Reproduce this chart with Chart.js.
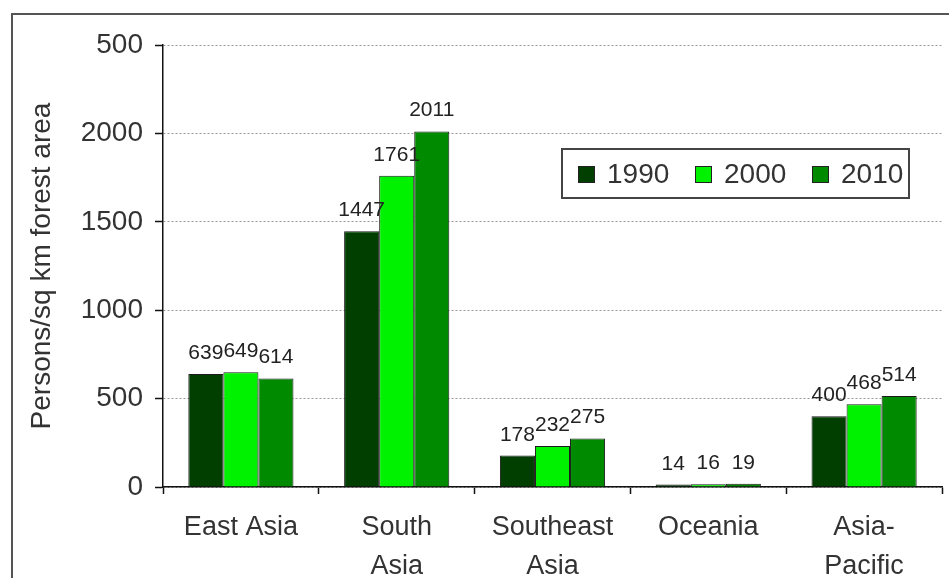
<!DOCTYPE html>
<html>
<head>
<meta charset="utf-8">
<script src="https://cdn.jsdelivr.net/npm/chart.js@4/dist/chart.umd.min.js"></script>
<style>
  html, body { margin: 0; padding: 0; background: #fff; }
  #wrap { width: 949px; height: 578px; }
</style>
</head>
<body>
<div id="wrap"><canvas id="densityChart" width="949" height="578"></canvas></div>
<script>
  // Population density per forest area, by region
  const regions = [['East Asia'], ['South', 'Asia'], ['Southeast', 'Asia'], ['Oceania'], ['Asia-', 'Pacific']];
  const years = ['1990', '2000', '2010'];
  const values1990 = [639, 1447, 178, 14, 400];
  const values2000 = [649, 1761, 232, 16, 468];
  const values2010 = [614, 2011, 275, 19, 514];
  const yTickLabels = ['0', '500', '1000', '1500', '2000', '500'];
  const colors = ['#003f00', '#00f200', '#008a00'];

  const FONT = 'Liberation Sans, Arial, sans-serif';

  // outer frame of the figure
  const framePlugin = {
    id: 'frame',
    beforeDraw(chart) {
      const ctx = chart.ctx;
      ctx.save();
      ctx.strokeStyle = '#555';
      ctx.lineWidth = 2;
      ctx.strokeRect(12, 14, 960, 600);
      ctx.restore();
    }
  };

  // numbers above each bar
  const valueLabels = {
    id: 'valueLabels',
    afterDatasetsDraw(chart) {
      const ctx = chart.ctx;
      ctx.save();
      ctx.font = '21px ' + FONT;
      ctx.fillStyle = '#222';
      ctx.textAlign = 'center';
      ctx.textBaseline = 'alphabetic';
      chart.data.datasets.forEach((ds, i) => {
        chart.getDatasetMeta(i).data.forEach((bar, j) => {
          ctx.fillText(String(ds.data[j]), bar.x, bar.y - 15);
        });
      });
      ctx.restore();
    }
  };

  // boxed legend inside the plot
  const boxLegend = {
    id: 'boxLegend',
    afterDraw(chart) {
      const ctx = chart.ctx;
      ctx.save();
      ctx.strokeStyle = '#444';
      ctx.lineWidth = 2;
      ctx.fillStyle = '#fff';
      ctx.fillRect(562, 149, 347, 49);
      ctx.strokeRect(562, 149, 347, 49);
      ctx.font = '28px ' + FONT;
      ctx.textBaseline = 'middle';
      let x = 578;
      chart.data.datasets.forEach((ds) => {
        ctx.fillStyle = ds.backgroundColor;
        ctx.fillRect(x, 166, 17, 17);
        ctx.strokeStyle = '#222';
        ctx.lineWidth = 1;
        ctx.strokeRect(x + 0.5, 166.5, 16, 16);
        ctx.fillStyle = '#333';
        ctx.fillText(ds.label, x + 29, 175);
        x += 117;
      });
      ctx.restore();
    }
  };

  const ctx = document.getElementById('densityChart').getContext('2d');
  const densityChart = new Chart(ctx, {
    type: 'bar',
    data: {
      labels: regions,
      datasets: [
        { label: years[0], data: values1990, backgroundColor: colors[0] },
        { label: years[1], data: values2000, backgroundColor: colors[1] },
        { label: years[2], data: values2010, backgroundColor: colors[2] }
      ].map(d => Object.assign(d, {
        borderColor: '#1a1a1a',
        borderWidth: 1,
        categoryPercentage: 0.675,
        barPercentage: 1
      }))
    },
    options: {
      responsive: false,
      animation: false,
      layout: { padding: { left: 0, top: 45, right: 7, bottom: 0 } },
      plugins: {
        legend: { display: false },
        tooltip: { enabled: false }
      },
      scales: {
        x: {
          grid: {
            offset: true,
            drawOnChartArea: false,
            tickLength: 7,
            tickColor: '#111',
            tickWidth: 1.5
          },
          border: { color: '#111', width: 1.5 },
          ticks: {
            color: '#333',
            font: { family: FONT, size: 27, lineHeight: 1.45 },
            padding: 14,
            maxRotation: 0,
            autoSkip: false
          },
          afterFit(scale) { scale.height = 91; }
        },
        y: {
          min: 0,
          max: 2500,
          grid: {
            color: '#999',
            lineWidth: 1,
            tickLength: 8,
            tickColor: '#111',
            tickWidth: 1.5,
            tickBorderDash: []
          },
          border: { color: '#111', width: 1.5, dash: [2, 2] },
          ticks: {
            stepSize: 500,
            color: '#333',
            font: { family: FONT, size: 28 },
            padding: 12,
            callback: (v, i) => yTickLabels[i]
          },
          title: {
            display: true,
            text: 'Persons/sq km forest area',
            color: '#333',
            font: { family: FONT, size: 28 },
            padding: { top: 25, bottom: 0 }
          },
          afterFit(scale) { scale.width = 163; }
        }
      }
    },
    plugins: [framePlugin, valueLabels, boxLegend]
  });
</script>
</body>
</html>
